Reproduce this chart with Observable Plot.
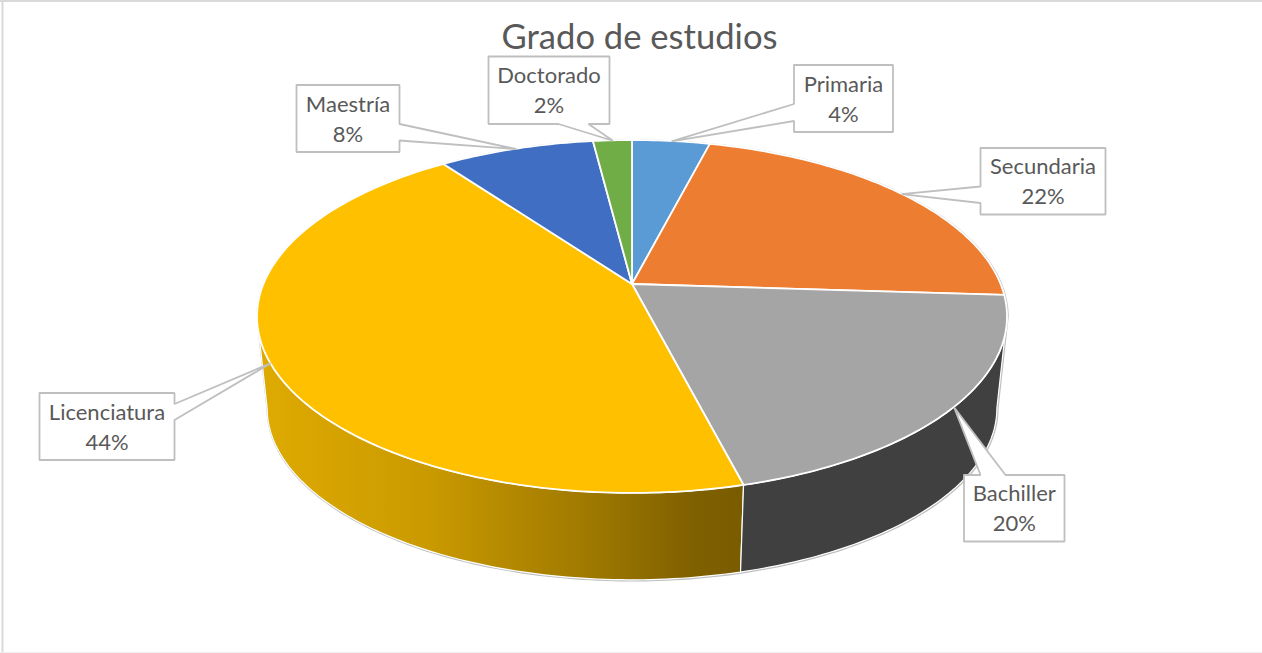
<!DOCTYPE html>
<html lang="es">
<head>
<meta charset="utf-8">
<style>html,body{margin:0;padding:0;background:#fff;overflow:hidden}svg{display:block}</style>
<script src="https://cdn.jsdelivr.net/npm/d3@7"></script>
<script src="https://cdn.jsdelivr.net/npm/@observablehq/plot@0.6"></script>
</head>
<body>
<script>
// ---- data ----
const title = "Grado de estudios";
const categories = ["Primaria", "Secundaria", "Bachiller", "Licenciatura", "Maestría", "Doctorado"];
const percents = [4, 22, 20, 44, 8, 2];
const topColors = ["#5b9bd5", "#ed7d31", "#a5a5a5", "#ffc000", "#3f6ec2", "#70ad47"];

// ---- layout (label boxes, not data) ----
const labelBoxes = [
  {box: [793.5, 64.5, 892.5, 131.5], side: "left", base: [103.5, 120.5]},
  {box: [980, 147.5, 1105, 214], side: "left", base: [186, 202.5]},
  {box: [963.5, 474.5, 1064, 541], side: "top", base: [980, 1005]},
  {box: [39, 392.5, 174, 459.5], side: "right", base: [403.5, 419.5]},
  {box: [296, 84.5, 399, 151.5], side: "right", base: [123.5, 140]},
  {box: [488, 56, 609, 123.5], side: "bottom", base: [588, 558]}
];
const W = 1262, H = 653;
const apex = [632, 284];
const persp = {A: 368.6, B: 170.5, k: 0.184};
const base = {scale: 0.973, drop: 92.5};
const wallStops = [[0, "#dfab02"], [0.36, "#c99900"], [0.68, "#9f7900"], [0.9, "#7f6000"], [1, "#7a5c00"]];

// ---- projection of the pie's plane (angle in degrees clockwise from the top) ----
function project(deg, ring) {
  const a = deg * Math.PI / 180, X = Math.sin(a), Y = -Math.cos(a);
  const w = 1 - persp.k * Y;
  const s = ring === "bottom" ? base.scale : 1;
  const d = ring === "bottom" ? base.drop : 0;
  return [apex[0] + s * persp.A * X / w, apex[1] + d + s * persp.B * Y / w];
}
function angles(a0, a1) {
  const n = Math.max(2, Math.ceil(Math.abs(a1 - a0)));
  return d3.range(n + 1).map(i => a0 + (a1 - a0) * i / n);
}

let acc = 0;
const slices = categories.map((name, i) => {
  const start = acc * 3.6, end = (acc + percents[i]) * 3.6;
  acc += percents[i];
  return {name, pct: percents[i], start, end, mid: (start + end) / 2};
});

const topRows = slices.flatMap(s => angles(s.start, s.end).map(a => {
  const p = project(a, "top");
  return {name: s.name, x: p[0], y: p[1], ax: apex[0], ay: apex[1]};
}));

const extreme = Math.acos(-persp.k) * 180 / Math.PI;
const wallRows = (a0, a1) => angles(a0, a1).map(a => {
  const t = project(a, "top"), b = project(a, "bottom");
  return {x1: t[0], y1: t[1], x2: b[0], y2: b[1]};
});
const silhouette = [
  ...angles(-extreme, extreme).map(a => project(a, "top")),
  ...angles(extreme, 360 - extreme).map(a => project(a, "bottom")),
  project(-extreme, "top")
].map(([x, y]) => ({x, y}));

const bach = slices[2], lic = slices[3];
const wallBach = wallRows(extreme, bach.end);
const wallLic = wallRows(lic.start, 360 - extreme);

// ---- callouts ----
const callouts = slices.map((s, i) => {
  const {box: [x0, y0, x1, y1], side, base: b} = labelBoxes[i];
  const tip = project(s.mid, "top");
  let pts;
  if (side === "left") pts = [[x0, y0], [x1, y0], [x1, y1], [x0, y1], [x0, b[1]], tip, [x0, b[0]]];
  else if (side === "right") pts = [[x0, y0], [x1, y0], [x1, b[0]], tip, [x1, b[1]], [x1, y1], [x0, y1]];
  else if (side === "top") pts = [[x0, y0], [b[0], y0], tip, [b[1], y0], [x1, y0], [x1, y1], [x0, y1]];
  else pts = [[x0, y0], [x1, y0], [x1, y1], [b[0], y1], tip, [b[1], y1], [x0, y1]];
  pts.push(pts[0]);
  return pts.map(([x, y]) => ({name: s.name, x, y}));
});
const labelRows = slices.map((s, i) => {
  const [x0, y0, x1, y1] = labelBoxes[i].box;
  return {x: (x0 + x1) / 2, y: (y0 + y1) / 2 - 1.5, text: `${s.name}\n${s.pct}%`};
});

// ---- gradient definition for the lit wall ----
const defs = () => {
  const d = d3.create("svg:defs");
  const g = d.append("linearGradient").attr("id", "wallLic").attr("x1", 0).attr("x2", 1).attr("y1", 0).attr("y2", 0);
  wallStops.forEach(([o, c]) => g.append("stop").attr("offset", o).attr("stop-color", c));
  return d.node();
};

const font = "Lato, 'Open Sans', sans-serif";

const chart = Plot.plot({
  width: W, height: H,
  margin: 0,
  style: {background: "#fff", fontFamily: font},
  x: {domain: [0, W], range: [0, W], axis: null},
  y: {domain: [0, H], range: [0, H], axis: null},
  color: {domain: categories, range: topColors},
  marks: [
    defs,
    Plot.ruleX([2], {stroke: "#d9d9d9", strokeWidth: 2}),
    Plot.ruleY([0.5], {stroke: "#d9d9d9", strokeWidth: 2}),
    Plot.ruleY([652], {stroke: "#eeeeee", strokeWidth: 1}),
    Plot.line(silhouette, {x: "x", y: "y", stroke: "#bfbfbf", strokeWidth: 2.4}),
    Plot.area(wallLic, {x1: "x1", y1: "y1", x2: "x2", y2: "y2", fill: "url(#wallLic)", stroke: "#fff", strokeWidth: 1.2}),
    Plot.area(wallBach, {x1: "x1", y1: "y1", x2: "x2", y2: "y2", fill: "#404040", stroke: "#fff", strokeWidth: 1.2}),
    Plot.area(topRows, {x1: "ax", y1: "ay", x2: "x", y2: "y", fill: "name", stroke: "#fff", strokeWidth: 1.8, strokeLinejoin: "round"}),
    ...callouts.map(pts => Plot.line(pts, {x: "x", y: "y", fill: "#fff", stroke: "#bfbfbf", strokeWidth: 1.8, strokeLinejoin: "miter"})),
    Plot.text(labelRows, {x: "x", y: "y", text: "text", fontSize: 22, lineHeight: 1.36, fill: "#595959", textAnchor: "middle", lineAnchor: "middle", fontFamily: font}),
    Plot.text([title], {x: [639], y: [37], text: d => d, fontSize: 34.6, fill: "#595959", textAnchor: "middle", lineAnchor: "middle", fontFamily: font})
  ]
});
document.body.appendChild(chart);
</script>
</body>
</html>
